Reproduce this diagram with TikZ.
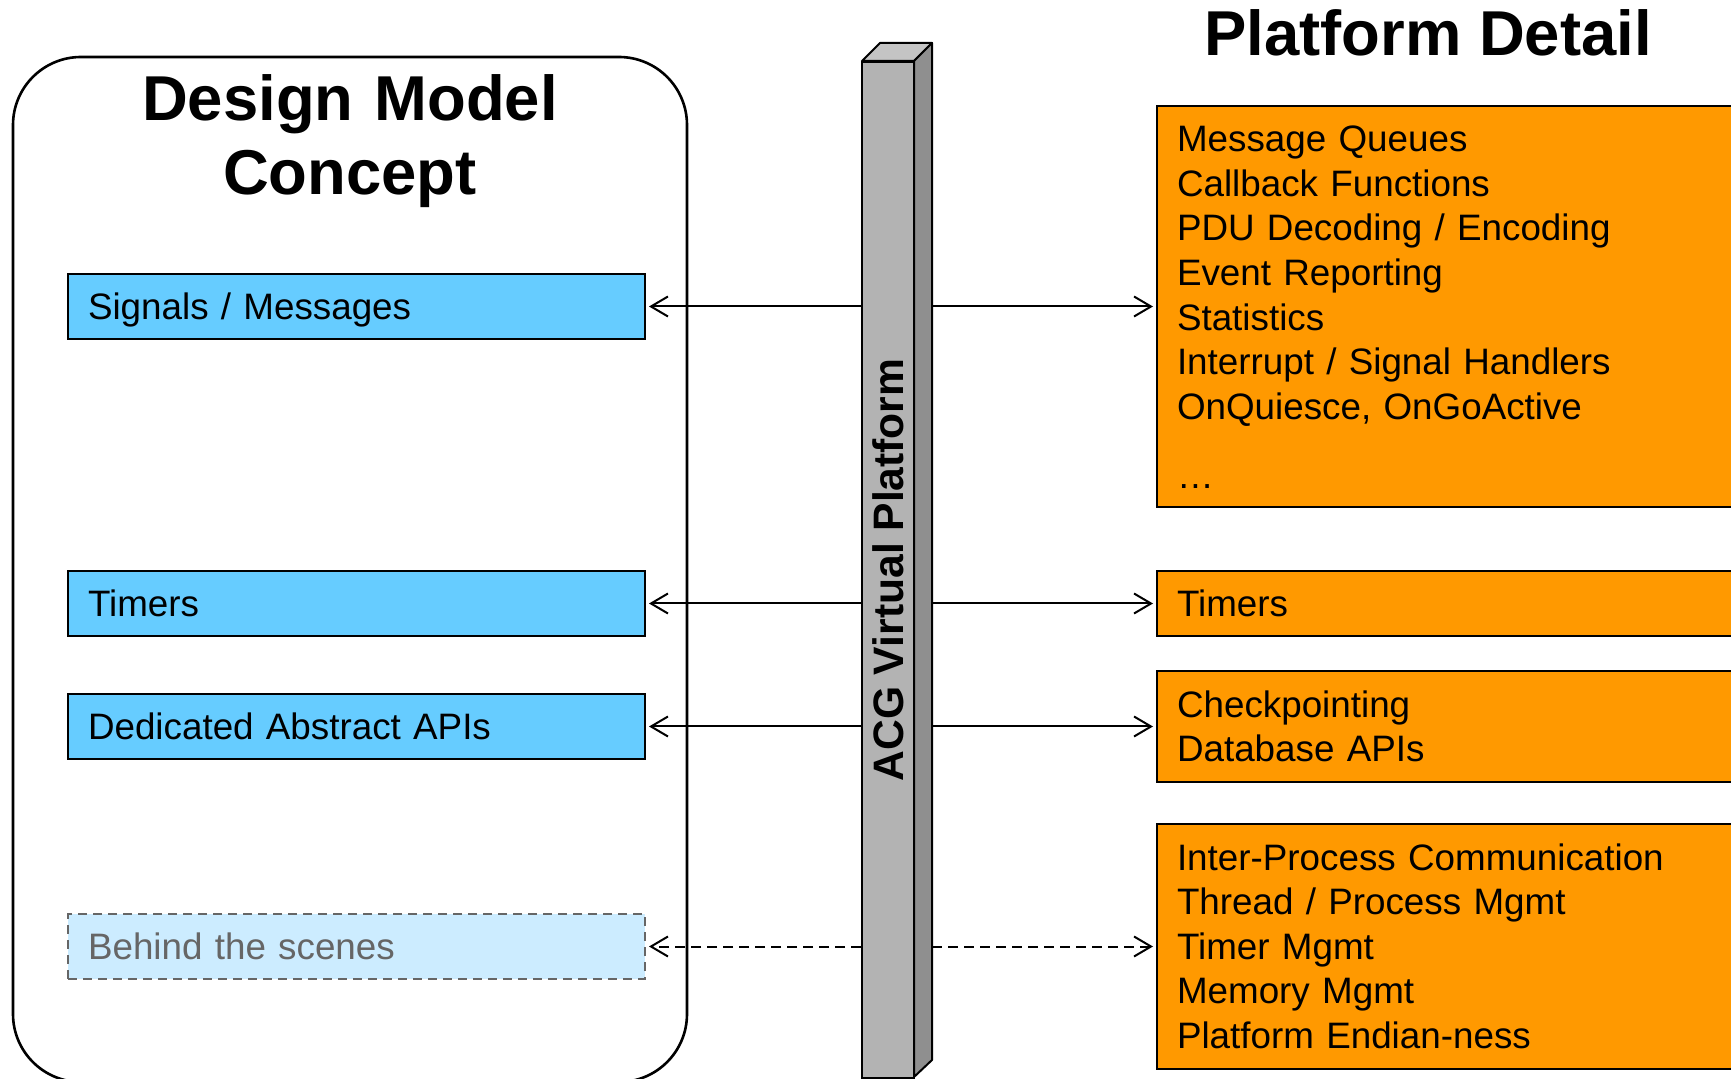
\documentclass[tikz,border=0pt]{standalone}
\usepackage{fontspec}
\setmainfont{Liberation Sans}
\usetikzlibrary{arrows.meta}
\definecolor{blueF}{HTML}{66CCFF}
\definecolor{lblueF}{HTML}{CCECFF}
\definecolor{orangeF}{HTML}{FF9900}
\definecolor{grayT}{HTML}{666666}
\definecolor{pfront}{HTML}{B3B3B3}
\definecolor{ptop}{HTML}{C4C4C4}
\definecolor{psidec}{HTML}{8F8F8F}
\begin{document}
\begin{tikzpicture}[x=0.5pt,y=-0.5pt,
  bodyfont/.style={font=\fontsize{18.4pt}{22.3pt}\selectfont},
  titlefont/.style={font=\fontsize{31.7pt}{37pt}\selectfont\bfseries},
  bluebox/.style={draw=black, line width=1pt, fill=blueF, bodyfont, anchor=north west,
    text width=268.5pt, inner xsep=10pt, inner ysep=0pt, minimum height=32.5pt,
    align=left, text height=13.2pt, text depth=0pt},
  ghostbox/.style={bluebox, fill=lblueF, draw=grayT, text=grayT, dash pattern=on 4.5pt off 3pt},
  orangebox/.style={draw=black, line width=1pt, fill=orangeF, bodyfont, anchor=north west,
    text width=330pt, inner xsep=10pt, inner ysep=0pt, align=left, text height=13.2pt},
  conn/.style={line width=1pt, -{Straight Barb[length=8.5pt,width=10pt]}, shorten >=1.5pt},
  dconn/.style={conn, dash pattern=on 5pt off 3pt}
]
\useasboundingbox (0,0) rectangle (1731,1079);
\clip (0,0) rectangle (1731,1079);

% left rounded container
\draw[line width=1.3pt, rounded corners=34pt] (13,57) rectangle (687,1082);
\node[titlefont, text width=330pt, align=center, anchor=base, inner sep=0pt] (dmc) at (350,121) {Design Model\\Concept};

% blue boxes
\node[bluebox] (sig) at (67,273) {Signals / Messages};
\node[bluebox] (tim) at (67,570) {Timers};
\node[bluebox] (api) at (67,693) {Dedicated Abstract APIs};
\node[ghostbox] (beh) at (67,913) {Behind the scenes};

% right side
\node[titlefont, anchor=base, inner sep=0pt] (pd) at (1428,56) {Platform Detail};
\node[orangebox, minimum height=200.5pt, text depth=168pt] (mq) at (1156,105)
  {Message Queues\\Callback Functions\\PDU Decoding / Encoding\\Event Reporting\\Statistics\\Interrupt / Signal Handlers\\OnQuiesce, OnGoActive\\[12.2pt]…};
\node[orangebox, minimum height=32.5pt, text depth=0pt] (otim) at (1156,570) {Timers};
\node[orangebox, minimum height=55.5pt, text depth=22.4pt] (chk) at (1156,670) {Checkpointing\\Database APIs};
\node[orangebox, minimum height=122.5pt, text depth=89.5pt] (ipc) at (1156,823)
  {Inter-Process Communication\\Thread / Process Mgmt\\Timer Mgmt\\Memory Mgmt\\Platform Endian-ness};

% pillar
\filldraw[fill=ptop, draw=black, line width=1pt, line join=round] (862,61) -- (880,43) -- (932,43) -- (914,61) -- cycle;
\filldraw[fill=psidec, draw=black, line width=1pt, line join=round] (914,61) -- (932,43) -- (932,1060) -- (914,1077) -- cycle;
\node[draw=black, fill=pfront, line width=1pt, rotate=90, minimum width=508pt, minimum height=26pt,
  inner sep=0pt, font=\fontsize{21.3pt}{25pt}\selectfont\bfseries] (pillar) at (888,570) {ACG Virtual Platform};
\coordinate (pside) at (932,569);

% connectors
\draw[conn] (pillar.north |- sig.east) -- (sig.east);
\draw[conn] (pillar.north |- tim.east) -- (tim.east);
\draw[conn] (pillar.north |- api.east) -- (api.east);
\draw[dconn] (pillar.north |- beh.east) -- (beh.east);
\draw[conn] (pside |- sig.east) -- (mq.west |- sig.east);
\draw[conn] (pside |- tim.east) -- (otim.west |- tim.east);
\draw[conn] (pside |- api.east) -- (chk.west |- api.east);
\draw[dconn] (pside |- beh.east) -- (ipc.west |- beh.east);
\end{tikzpicture}
\end{document}
